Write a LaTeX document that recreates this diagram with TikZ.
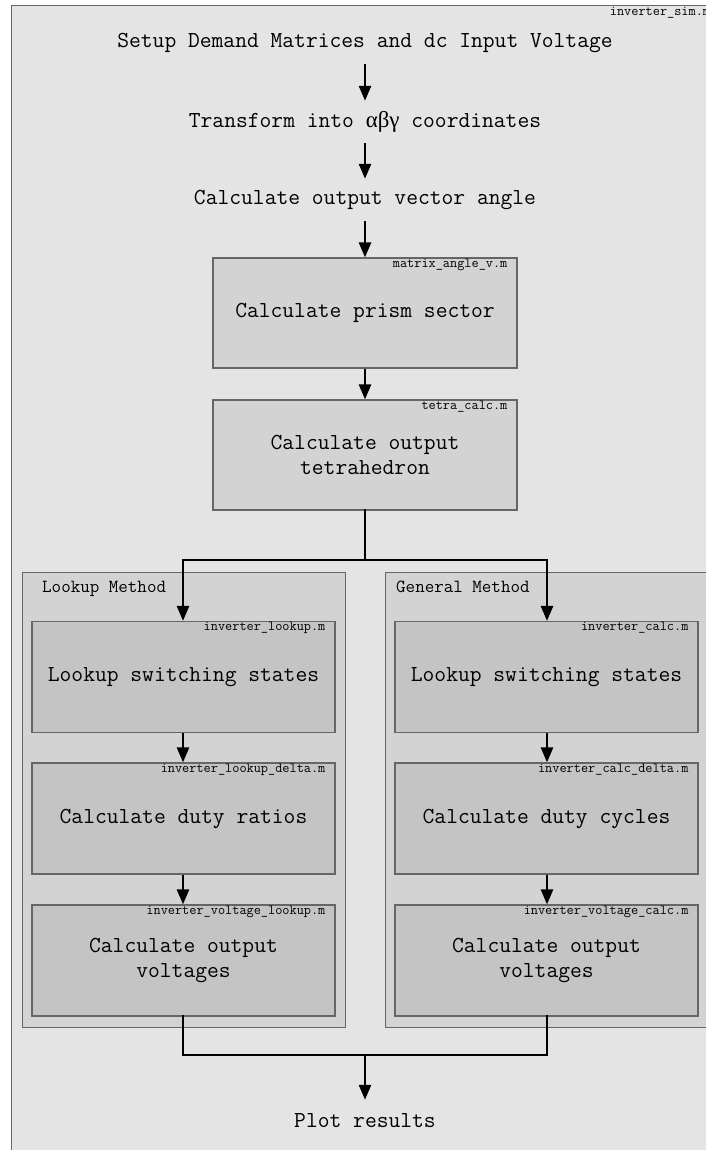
\documentclass[tikz,border=0pt]{standalone}
\usepackage{fontspec}
\newfontfamily\greekfont{Liberation Serif}
\usetikzlibrary{arrows.meta}

\definecolor{simbg}{HTML}{E4E4E4}
\definecolor{grpbg}{HTML}{D3D3D3}
\definecolor{subbg}{HTML}{C4C4C4}
\definecolor{edge}{HTML}{666666}

\begin{document}
\begin{tikzpicture}[
        x=1pt, y=-1pt,
        step text/.style={font=\ttfamily\fontsize{22.9}{27}\selectfont, align=center, inner sep=0pt, minimum height=42pt},
        stepbox/.style={draw=edge, fill=grpbg, line width=1.2pt, minimum width=304pt, minimum height=110pt,
            font=\ttfamily\fontsize{22.9}{25}\selectfont, align=center, inner sep=0pt},
        subbox/.style={stepbox, fill=subbg, minimum width=303pt, minimum height=111pt},
        group/.style={draw=edge, fill=grpbg, line width=1.2pt, anchor=north west, minimum width=323pt, minimum height=455pt},
        group label/.style={font=\ttfamily\fontsize{18.5}{20}\selectfont, anchor=base west, inner sep=0pt},
        mfile/.style={font=\ttfamily\fontsize{13.9}{15}\selectfont, anchor=base east, inner sep=0pt},
        wire/.style={line width=2.6pt, line cap=rect},
        flow/.style={line width=2.6pt, -{Triangle[length=15pt,width=12pt]}}
    ]

    \useasboundingbox (0,0) rectangle (705,1150);

    % main script frame
    \node[draw=edge, fill=simbg, line width=1.3pt, anchor=north west,
        minimum width=707pt, minimum height=1157pt] (sim) at (11,5) {};
    \node[mfile] (simname) at ([xshift=-9pt,yshift=-11pt]sim.north east) {inverter\_sim.m};

    \node[step text] (setup) at (365,43) {Setup Demand Matrices and dc Input Voltage};
    \node[step text] (abg) at (365,122) {Transform into {\greekfont αβγ} coordinates};
    \node[step text] (angle) at (365,200) {Calculate output vector angle};

    \node[stepbox] (prism) at (365,313) {Calculate prism sector};
    \node[mfile] (prismname) at ([xshift=-10pt,yshift=-10pt]prism.north east) {matrix\_angle\_v.m};

    \node[stepbox] (tetra) at (365,455) {Calculate output\\tetrahedron};
    \node[mfile] (tetraname) at ([xshift=-10pt,yshift=-10pt]tetra.north east) {tetra\_calc.m};

    % the two methods
    \node[group] (lookup) at (22,572) {};
    \node[group label] (lookupname) at ([xshift=20pt,yshift=-20pt]lookup.north west) {Lookup Method};
    \node[group] (general) at (385,572) {};
    \node[group label] (generalname) at ([xshift=11pt,yshift=-20pt]general.north west) {General Method};

    \node[subbox] (lk1) at (183.5,677) {Lookup switching states};
    \node[subbox] (lk2) at (183.5,818.5) {Calculate duty ratios};
    \node[subbox] (lk3) at (183.5,960.5) {Calculate output\\voltages};
    \node[mfile] (lk1name) at ([xshift=-10pt,yshift=-10pt]lk1.north east) {inverter\_lookup.m};
    \node[mfile] (lk2name) at ([xshift=-10pt,yshift=-10pt]lk2.north east) {inverter\_lookup\_delta.m};
    \node[mfile] (lk3name) at ([xshift=-10pt,yshift=-10pt]lk3.north east) {inverter\_voltage\_lookup.m};

    \node[subbox] (gn1) at (546.5,677) {Lookup switching states};
    \node[subbox] (gn2) at (546.5,818.5) {Calculate duty cycles};
    \node[subbox] (gn3) at (546.5,960.5) {Calculate output\\voltages};
    \node[mfile] (gn1name) at ([xshift=-10pt,yshift=-10pt]gn1.north east) {inverter\_calc.m};
    \node[mfile] (gn2name) at ([xshift=-10pt,yshift=-10pt]gn2.north east) {inverter\_calc\_delta.m};
    \node[mfile] (gn3name) at ([xshift=-10pt,yshift=-10pt]gn3.north east) {inverter\_voltage\_calc.m};

    \node[step text] (plot) at (365,1121) {Plot results};

    \coordinate (split) at (365,560);
    \coordinate (merge) at (365,1055);

    % arrows
    \draw[flow] (setup) -- (abg);
    \draw[flow] (abg) -- (angle);
    \draw[flow] (angle) -- (prism);
    \draw[flow] (prism) -- (tetra);
    \draw[wire] (tetra) -- (split);
    \draw[flow] (split) -| (lk1.north -| 183,0);
    \draw[flow] (split) -| (gn1.north -| 547,0);
    \foreach \a/\b in {lk1/lk2, lk2/lk3} {
        \draw[flow] (\a.south -| 183,0) -- (\b.north -| 183,0);
    }
    \foreach \a/\b in {gn1/gn2, gn2/gn3} {
        \draw[flow] (\a.south -| 547,0) -- (\b.north -| 547,0);
    }
    \draw[wire] (lk3.south -| 183,0) |- (merge) -| (gn3.south -| 547,0);
    \draw[flow] (merge) -- (plot);

\end{tikzpicture}
\end{document}
